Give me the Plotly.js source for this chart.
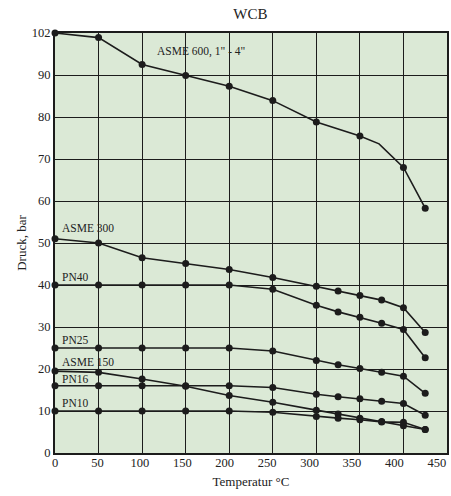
<!DOCTYPE html>
<html><head><meta charset="utf-8">
<script src="https://cdn.plot.ly/plotly-3.0.1.min.js"></script>
<style>html,body{margin:0;padding:0;background:#fff}#c{width:451px;height:496px}</style>
</head><body><div id="c"></div>
<script>
const temps = [0,50,100,150,200,250,300,325,350,375,400,425];
const asme600X = [0,50,100,150,200,250,300,350,372,400,425];
const asme600 = [100,98.9,92.5,89.9,87.3,83.9,78.8,75.5,73.6,68.0,58.3];
const asme600Marked = [true,true,true,true,true,true,true,true,false,true,true];
const asme300 = [51,50,46.5,45.1,43.7,41.8,39.7,38.6,37.5,36.4,34.6,28.7];
const pn40 = [40,40,40,40,40,39.0,35.2,33.6,32.3,30.9,29.4,22.7];
const pn25 = [25,25,25,25,25,24.3,22.0,21.0,20.1,19.2,18.3,14.2];
const asme150 = [19.5,19.2,17.6,15.9,13.7,12.1,10.2,9.3,8.3,7.5,6.5,5.6];
const pn16 = [16,16,16,16,16,15.6,14.0,13.4,12.9,12.3,11.8,9.0];
const pn10 = [10,10,10,10,10,9.7,8.7,8.3,7.9,7.4,7.3,5.6];
const seriesLabels = ["ASME 600, 1\" - 4\"","ASME 300","PN40","PN25","ASME 150","PN16","PN10"];
const labelX = [115,6,6,6,6,6,6];
const labelY = [95.5,53.6,41.8,26.9,21.7,17.6,11.8];
const yTickVals = [0,10,20,30,40,50,60,70,80,90,100];
const yTickText = ["0","10","20","30","40","50","60","70","80","90","102"];
const xTickVals = [0,50,100,150,200,250,300,350,400,450];

const ink = '#1c1c1c';
const line = {color: ink, width: 1.6};
const mk = {color: ink, size: 7};
function tr(x, y, mode) {
  return {x: x, y: y, type: 'scatter', mode: mode || 'lines+markers', line: line,
    marker: mk, cliponaxis: false, hoverinfo: 'skip'};
}
const traces = [
  tr(asme600X, asme600, 'lines'),
  tr(asme600X.filter((v, i) => asme600Marked[i]), asme600.filter((v, i) => asme600Marked[i]), 'markers'),
  tr(temps, asme300), tr(temps, pn40), tr(temps, pn25),
  tr(temps, asme150), tr(temps, pn16), tr(temps, pn10)
];
const font = {family: '"Liberation Serif", "DejaVu Serif", serif', color: '#222'};
const annotations = seriesLabels.map((t, i) => ({
  x: labelX[i], y: labelY[i], xref: 'x', yref: 'y', text: t, showarrow: false,
  xanchor: 'left', yanchor: 'middle', font: Object.assign({}, font, {size: 11.5})
}));
const layout = {
  width: 451, height: 496,
  margin: {l: 55, r: 4, t: 33, b: 43},
  paper_bgcolor: '#fff', plot_bgcolor: '#dbe9d6',
  showlegend: false, font: font,
  title: {text: 'WCB', x: 0.555, xanchor: 'center', y: 0.972, yanchor: 'middle', font: Object.assign({}, font, {size: 15})},
  xaxis: {range: [0, 450], tickvals: xTickVals, showticklabels: false, showgrid: true,
    gridcolor: ink, gridwidth: 1, zeroline: false, showline: true, linecolor: ink, linewidth: 2, mirror: true, ticks: ''},
  xaxis2: {overlaying: 'x', side: 'bottom', range: [0, 462], tickvals: xTickVals, showgrid: false, zeroline: false,
    showline: false, ticks: '', tickfont: Object.assign({}, font, {size: 12.5}),
    title: {text: 'Temperatur °C', font: Object.assign({}, font, {size: 13}), standoff: 8}},
  yaxis: {range: [0, 100], tickvals: yTickVals, ticktext: yTickText, showgrid: true, gridcolor: ink, gridwidth: 1,
    zeroline: false, showline: true, linecolor: ink, linewidth: 2, mirror: true, ticks: '',
    tickfont: Object.assign({}, font, {size: 12.5}),
    title: {text: 'Druck, bar', font: Object.assign({}, font, {size: 13}), standoff: 2}},
  annotations: annotations
};
traces.push({x: [0], y: [0], xaxis: 'x2', yaxis: 'y', type: 'scatter', mode: 'markers', marker: {opacity: 0}, hoverinfo: 'skip'});
Plotly.newPlot('c', traces, layout, {staticPlot: true});
</script></body></html>
